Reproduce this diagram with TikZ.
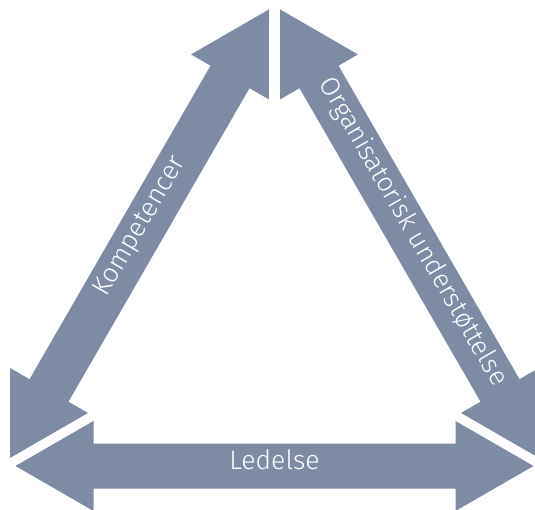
\documentclass[tikz,border=0pt]{standalone}
\usepackage{fontspec}
\setmainfont{Fira Sans}[UprightFont=* Light]
\definecolor{arrowblue}{HTML}{7E8BA5}
\newcommand\dblarrow[2]{%
  \fill[arrowbody, shift={#1}, rotate=#2] (0,0) -- (78,45) -- (78,22.5) -- (440,22.5) -- (440,45) -- (518,0) -- (440,-45) -- (440,-22.5) -- (78,-22.5) -- (78,-45) -- cycle;}
\begin{document}
\begin{tikzpicture}[x=1pt,y=1pt,
  arrowbody/.style={fill=arrowblue},
  arrowtext/.style={text=white, font=\fontsize{26.6}{30}\selectfont, inner sep=0pt, text height=0.69em, text depth=0pt}]
\useasboundingbox (0,0) rectangle (535,509);
\coordinate (bl) at (15.5,43);
\coordinate (ll) at (10,51);
\coordinate (rt) at (280,499.6);
\dblarrow{(bl)}{0}
\dblarrow{(ll)}{60}
\dblarrow{(rt)}{-60}
\node[arrowtext, rotate=60] (komp) at (143,281) {Kompetencer};
\node[arrowtext, rotate=-60] (org) at (409.5,275) {Organisatorisk understøttelse};
\node[arrowtext] (led) at (274.5,43) {Ledelse};
\end{tikzpicture}
\end{document}
